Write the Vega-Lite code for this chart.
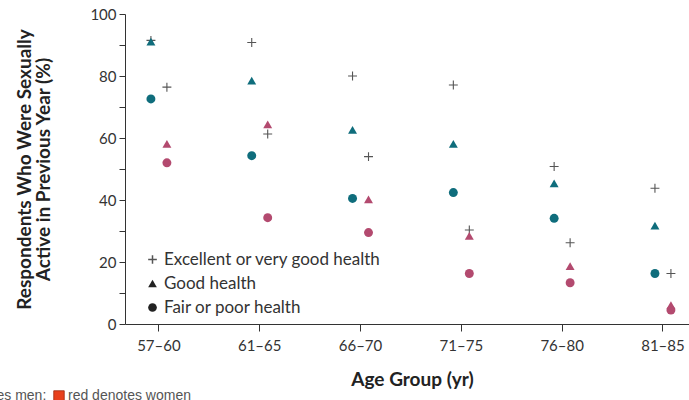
{
  "$schema": "https://vega.github.io/schema/vega-lite/v6.json",
  "width": 564,
  "height": 310,
  "autosize": {"type": "none"},
  "padding": {"left": 125, "top": 14, "right": 0, "bottom": 76},
  "background": "white",
  "config": {
    "view": {"stroke": null},
    "font": "Lato",
    "axis": {"domainColor": "#333", "tickColor": "#333", "labelColor": "#333", "titleColor": "#222", "labelFont": "Lato", "titleFont": "Lato", "grid": false}
  },
  "data": {
    "values": [
      {"age": "57–60", "sex": "Men", "health": "Excellent or very good health", "pct": 91.5},
      {"age": "57–60", "sex": "Men", "health": "Good health", "pct": 91.1},
      {"age": "57–60", "sex": "Men", "health": "Fair or poor health", "pct": 72.6},
      {"age": "57–60", "sex": "Women", "health": "Excellent or very good health", "pct": 76.4},
      {"age": "57–60", "sex": "Women", "health": "Good health", "pct": 58.1},
      {"age": "57–60", "sex": "Women", "health": "Fair or poor health", "pct": 52.0},
      {"age": "61–65", "sex": "Men", "health": "Excellent or very good health", "pct": 90.8},
      {"age": "61–65", "sex": "Men", "health": "Good health", "pct": 78.5},
      {"age": "61–65", "sex": "Men", "health": "Fair or poor health", "pct": 54.3},
      {"age": "61–65", "sex": "Women", "health": "Excellent or very good health", "pct": 61.3},
      {"age": "61–65", "sex": "Women", "health": "Good health", "pct": 64.4},
      {"age": "61–65", "sex": "Women", "health": "Fair or poor health", "pct": 34.3},
      {"age": "66–70", "sex": "Men", "health": "Excellent or very good health", "pct": 80.0},
      {"age": "66–70", "sex": "Men", "health": "Good health", "pct": 62.6},
      {"age": "66–70", "sex": "Men", "health": "Fair or poor health", "pct": 40.5},
      {"age": "66–70", "sex": "Women", "health": "Excellent or very good health", "pct": 54.0},
      {"age": "66–70", "sex": "Women", "health": "Good health", "pct": 40.2},
      {"age": "66–70", "sex": "Women", "health": "Fair or poor health", "pct": 29.5},
      {"age": "71–75", "sex": "Men", "health": "Excellent or very good health", "pct": 77.1},
      {"age": "71–75", "sex": "Men", "health": "Good health", "pct": 58.1},
      {"age": "71–75", "sex": "Men", "health": "Fair or poor health", "pct": 42.4},
      {"age": "71–75", "sex": "Women", "health": "Excellent or very good health", "pct": 30.3},
      {"age": "71–75", "sex": "Women", "health": "Good health", "pct": 28.4},
      {"age": "71–75", "sex": "Women", "health": "Fair or poor health", "pct": 16.3},
      {"age": "76–80", "sex": "Men", "health": "Excellent or very good health", "pct": 50.8},
      {"age": "76–80", "sex": "Men", "health": "Good health", "pct": 45.4},
      {"age": "76–80", "sex": "Men", "health": "Fair or poor health", "pct": 34.1},
      {"age": "76–80", "sex": "Women", "health": "Excellent or very good health", "pct": 26.2},
      {"age": "76–80", "sex": "Women", "health": "Good health", "pct": 18.7},
      {"age": "76–80", "sex": "Women", "health": "Fair or poor health", "pct": 13.3},
      {"age": "81–85", "sex": "Men", "health": "Excellent or very good health", "pct": 43.8},
      {"age": "81–85", "sex": "Men", "health": "Good health", "pct": 31.7},
      {"age": "81–85", "sex": "Men", "health": "Fair or poor health", "pct": 16.3},
      {"age": "81–85", "sex": "Women", "health": "Excellent or very good health", "pct": 16.3},
      {"age": "81–85", "sex": "Women", "health": "Good health", "pct": 6.1},
      {"age": "81–85", "sex": "Women", "health": "Fair or poor health", "pct": 4.5}
    ]
  },
  "encoding": {
    "x": {
      "field": "age", "type": "nominal", "sort": null,
      "scale": {"paddingInner": 0.683, "paddingOuter": 0.139, "align": 0.64},
      "axis": {"title": "Age Group (yr)", "titleX": 287, "labelAngle": 0, "labelFontSize": 15, "labelPadding": 7, "tickSize": 7, "titleFontSize": 19, "titleFontWeight": "bold", "titlePadding": 17}
    },
    "xOffset": {"field": "sex", "type": "nominal", "scale": {"domain": ["Men", "Women"], "padding": 0.5}},
    "y": {
      "field": "pct", "type": "quantitative",
      "scale": {"domain": [0, 100], "nice": false},
      "axis": {
        "title": ["Respondents Who Were Sexually", "Active in Previous Year (%)"],
        "values": [0, 10, 20, 30, 40, 50, 60, 70, 80, 90, 100],
        "labelExpr": "datum.value % 20 === 0 ? datum.label : ''",
        "labelFontSize": 15, "tickSize": 6, "labelPadding": 3,
        "titleFontSize": 19, "titleFontWeight": "bold", "titleLineHeight": 19, "titlePadding": 36
      }
    }
  },
  "layer": [
    {
      "mark": {"type": "point", "filled": true, "size": 0, "opacity": 1},
      "encoding": {
        "fill": {
          "field": "sex", "type": "nominal",
          "scale": {"domain": ["Men", "Women"], "range": ["#0f6d7c", "#e8401c"]},
          "legend": {
            "orient": "none", "legendX": -206, "legendY": 375, "direction": "horizontal", "title": null,
            "symbolType": "square", "symbolSize": 110, "symbolStrokeColor": "#9a2a10", "symbolStrokeWidth": 0.8,
            "labelFont": "Liberation Sans", "labelFontSize": 14, "labelColor": "#555", "labelOffset": 2, "columnPadding": 5, "labelLimit": 300,
            "labelExpr": "datum.value === 'Men' ? 'teal denotes men:' : 'red denotes women'"
          }
        }
      }
    },
    {
      "mark": {"type": "point", "filled": true, "opacity": 1, "size": 80, "strokeWidth": 1.1},
      "encoding": {
        "color": {
          "field": "sex", "type": "nominal",
          "scale": {"domain": ["Men", "Women"], "range": ["#0f6d7c", "#b34a6f"]},
          "legend": null
        },
        "shape": {
          "field": "health", "type": "nominal",
          "scale": {"domain": ["Excellent or very good health", "Good health", "Fair or poor health"], "range": ["M-1,0L1,0M0,-1L0,1", "triangle-up", "circle"]},
          "legend": {
            "orient": "none", "legendX": 19, "legendY": 237, "title": null, "labelLimit": 400,
            "labelFontSize": 17, "labelColor": "#333", "symbolFillColor": "#222", "symbolSize": 75, "rowPadding": 6, "labelOffset": 3
          }
        },
        "stroke": {
          "field": "health", "type": "nominal",
          "scale": {"domain": ["Excellent or very good health", "Good health", "Fair or poor health"], "range": ["#555", "transparent", "transparent"]},
          "legend": {
            "orient": "none", "legendX": 19, "legendY": 237, "title": null, "labelLimit": 400,
            "labelFontSize": 17, "labelColor": "#333", "symbolFillColor": "#222", "symbolSize": 75, "rowPadding": 6, "labelOffset": 3
          }
        }
      }
    }
  ]
}
